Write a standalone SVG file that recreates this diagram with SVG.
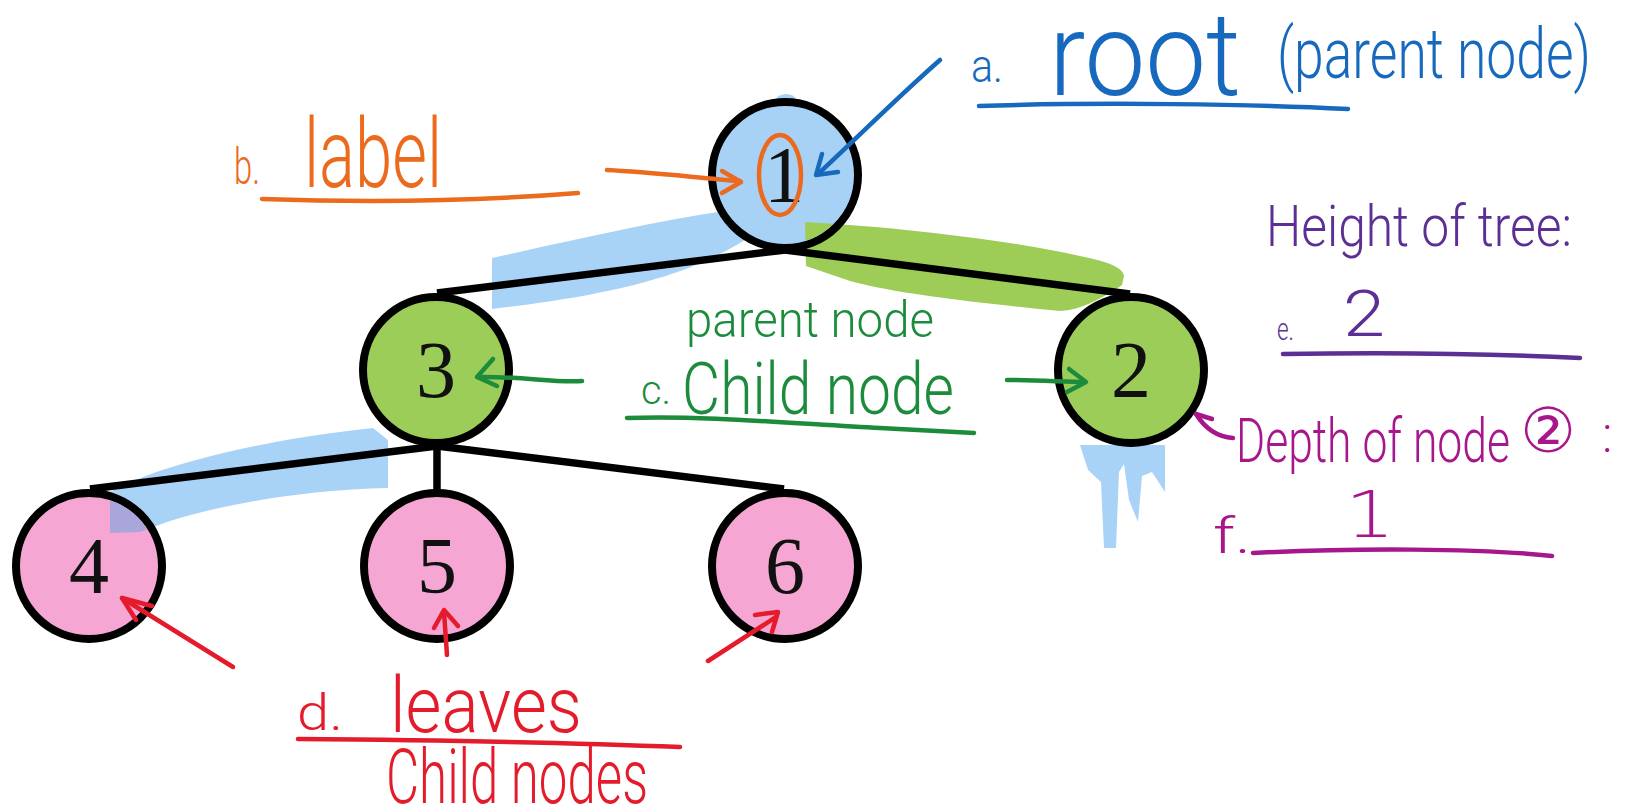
<svg xmlns="http://www.w3.org/2000/svg" width="1625" height="812" viewBox="0 0 1625 812">
  <defs>
    <style>
      .edge { stroke: #000; stroke-width: 7.5; stroke-linecap: butt; fill: none; }
      .node-ring { stroke: #000; stroke-width: 8; }
      .num { font-family: "Liberation Serif", "DejaVu Serif", serif; font-size: 80px; text-anchor: middle; fill: #111; }
      .hand { font-family: Roboto, "Liberation Sans", sans-serif; font-weight: 300; }
      .ink { fill: none; stroke-linecap: round; stroke-linejoin: round; stroke-width: 4.5; }
      .blue { fill: #1669bd; } .blue-s { stroke: #1669bd; }
      .orange { fill: #eb6a1e; } .orange-s { stroke: #eb6a1e; }
      .green { fill: #1c8c3c; } .green-s { stroke: #1c8c3c; }
      .purple { fill: #5b2f93; } .purple-s { stroke: #5b2f93; }
      .magenta { fill: #a8168c; } .magenta-s { stroke: #a8168c; }
      .red { fill: #e31b2b; } .red-s { stroke: #e31b2b; }
    </style>
    <clipPath id="inside-n1"><circle cx="785" cy="175" r="69"/></clipPath>
    <clipPath id="inside-n4"><circle cx="89" cy="566" r="69"/></clipPath>
    <path id="band-green" d="M805,222 C880,226 1000,238 1080,256 C1110,262 1123,268 1124,276 L1122,285 C1100,300 1080,310 1060,311 C1000,305 900,295 850,281 L806,266 Z"/>
    <path id="band-left" d="M110,492 C160,465 260,440 373,428 L388,440 L388,488 C300,490 220,505 167,522 L140,532 L110,533 Z"/>
  </defs>

  <rect width="1625" height="812" fill="#fff"/>

  <!-- highlighter strokes under the tree -->
  <g id="highlights">
    <path d="M492,258 C560,243 650,222 730,210 L745,240 C700,268 640,292 492,309 Z" fill="#a8d3f6"/>
    <use href="#band-green" fill="#9dcd57"/>
    <use href="#band-left" fill="#a8d3f6"/>
    <path d="M1080,445 L1165,445 L1165,492 L1152,472 L1142,476 L1138,522 L1129,500 L1124,464 L1119,472 L1116,548 L1104,548 L1101,482 L1088,470 Z" fill="#a8d3f6"/>
    <ellipse cx="786" cy="100" rx="10" ry="6" fill="#a8d3f6"/>
  </g>

  <!-- tree edges -->
  <g id="edges">
    <line class="edge" x1="785" y1="250" x2="437" y2="293"/>
    <line class="edge" x1="785" y1="250" x2="1130" y2="294"/>
    <line class="edge" x1="437" y1="446" x2="90" y2="489"/>
    <line class="edge" x1="437" y1="446" x2="437" y2="490"/>
    <line class="edge" x1="437" y1="446" x2="784" y2="489"/>
  </g>

  <g id="node-1">
    <circle class="node-ring" cx="785" cy="175" r="73" fill="#a7d2f5"/>
    <text class="num" x="784" y="202">1</text>
  </g>
  <g id="node-3">
    <circle class="node-ring" cx="436" cy="370" r="73" fill="#9ccd58"/>
    <text class="num" x="436" y="397">3</text>
  </g>
  <g id="node-2">
    <circle class="node-ring" cx="1131" cy="370" r="73" fill="#9ccd58"/>
    <text class="num" x="1131" y="397">2</text>
  </g>
  <g id="node-4">
    <circle class="node-ring" cx="89" cy="566" r="73" fill="#f6a6d3"/>
    <text class="num" x="89" y="593">4</text>
  </g>
  <g id="node-5">
    <circle class="node-ring" cx="437" cy="566" r="73" fill="#f6a6d3"/>
    <text class="num" x="437" y="593">5</text>
  </g>
  <g id="node-6">
    <circle class="node-ring" cx="785" cy="566" r="73" fill="#f6a6d3"/>
    <text class="num" x="785" y="593">6</text>
  </g>

  <!-- highlighter passing over node interiors -->
  <g id="highlight-overlays">
    <use href="#band-green" fill="#9dcd57" clip-path="url(#inside-n1)"/>
    <use href="#band-left" fill="#a9a6dc" clip-path="url(#inside-n4)"/>
  </g>

  <!-- a. root -->
  <g id="note-root">
    <path class="ink blue-s" d="M940,60 C900,95 860,135 818,174"/>
    <path class="ink blue-s" d="M822,154 L816,175 L838,172"/>
    <text class="hand blue" x="971" y="82" font-size="46" textLength="32" lengthAdjust="spacingAndGlyphs">a.</text>
    <text class="hand blue" x="1049" y="95" font-size="116" textLength="192" lengthAdjust="spacingAndGlyphs">root</text>
    <text class="hand blue" x="1277" y="78" font-size="70" textLength="314" lengthAdjust="spacingAndGlyphs">(parent node)</text>
    <path class="ink blue-s" d="M979,106 C1100,102 1250,104 1348,109" stroke-width="5"/>
  </g>

  <!-- b. label -->
  <g id="note-label">
    <text class="hand orange" x="234" y="184" font-size="50" textLength="26" lengthAdjust="spacingAndGlyphs">b.</text>
    <text class="hand orange" x="304" y="187" font-size="96" textLength="138" lengthAdjust="spacingAndGlyphs">label</text>
    <path class="ink orange-s" d="M262,199 C380,203 480,201 578,193"/>
    <path class="ink orange-s" d="M607,170 C650,172 700,178 740,181"/>
    <path class="ink orange-s" d="M722,171 L741,182 L722,193"/>
    <ellipse class="ink orange-s" cx="780" cy="175" rx="21" ry="40"/>
  </g>

  <!-- c. child node -->
  <g id="note-child">
    <text class="hand green" x="686" y="337" font-size="50" textLength="248" lengthAdjust="spacingAndGlyphs">parent node</text>
    <text class="hand green" x="641" y="404" font-size="40" textLength="30" lengthAdjust="spacingAndGlyphs">c.</text>
    <text class="hand green" x="682" y="414" font-size="72" textLength="272" lengthAdjust="spacingAndGlyphs">Child node</text>
    <path class="ink green-s" d="M627,418 C700,415 800,424 880,428 C920,430 950,432 974,433"/>
    <path class="ink green-s" d="M582,381 C555,383 520,376 478,377"/>
    <path class="ink green-s" d="M493,359 L477,377 L497,386"/>
    <path class="ink green-s" d="M1007,380 C1040,380 1065,382 1085,382"/>
    <path class="ink green-s" d="M1069,369 L1086,382 L1067,392"/>
  </g>

  <!-- e. height of tree -->
  <g id="note-height">
    <text class="hand purple" x="1266" y="246" font-size="58" textLength="306" lengthAdjust="spacingAndGlyphs">Height of tree:</text>
    <text class="hand purple" x="1277" y="340" font-size="32" textLength="17" lengthAdjust="spacingAndGlyphs">e.</text>
    <text class="hand purple" x="1343" y="336" font-size="64" textLength="42" lengthAdjust="spacingAndGlyphs">2</text>
    <path class="ink purple-s" d="M1283,354 C1400,352 1500,354 1580,358"/>
  </g>

  <!-- f. depth of node 2 -->
  <g id="note-depth">
    <path class="ink magenta-s" d="M1233,438 C1218,437 1206,430 1196,414" stroke-width="5"/>
    <path class="ink magenta-s" d="M1196,414 L1212,419" stroke-width="5"/>
    <text class="hand magenta" x="1236" y="462" font-size="62" textLength="274" lengthAdjust="spacingAndGlyphs">Depth of node</text>
    <text class="magenta" x="1548" y="452" font-size="62" text-anchor="middle" font-family="'DejaVu Sans', 'Noto Sans CJK JP', sans-serif">②</text>
    <text class="hand magenta" x="1602" y="452" font-size="50">:</text>
    <text class="hand magenta" x="1213" y="553" font-size="50" textLength="38" lengthAdjust="spacingAndGlyphs">f.</text>
    <text class="magenta" x="1345" y="537" font-size="64" textLength="50" lengthAdjust="spacingAndGlyphs" font-family="'DejaVu Sans', sans-serif" font-weight="300">1</text>
    <path class="ink magenta-s" d="M1253,553 C1350,548 1480,548 1552,556"/>
  </g>

  <!-- d. leaves -->
  <g id="note-leaves">
    <path class="ink red-s" d="M233,667 L122,598"/>
    <path class="ink red-s" d="M152,606 L122,598 L136,620"/>
    <path class="ink red-s" d="M447,655 L444,612"/>
    <path class="ink red-s" d="M434,628 L444,610 L458,626"/>
    <path class="ink red-s" d="M708,661 L776,617"/>
    <path class="ink red-s" d="M755,615 L778,612 L772,632"/>
    <text class="hand red" x="297" y="730" font-size="50" textLength="46" lengthAdjust="spacingAndGlyphs">d.</text>
    <text class="hand red" x="390" y="732" font-size="78" textLength="192" lengthAdjust="spacingAndGlyphs">leaves</text>
    <path class="ink red-s" d="M298,739 C420,740 560,742 680,747"/>
    <text class="hand red" x="386" y="803" font-size="76" textLength="262" lengthAdjust="spacingAndGlyphs">Child nodes</text>
  </g>
</svg>
